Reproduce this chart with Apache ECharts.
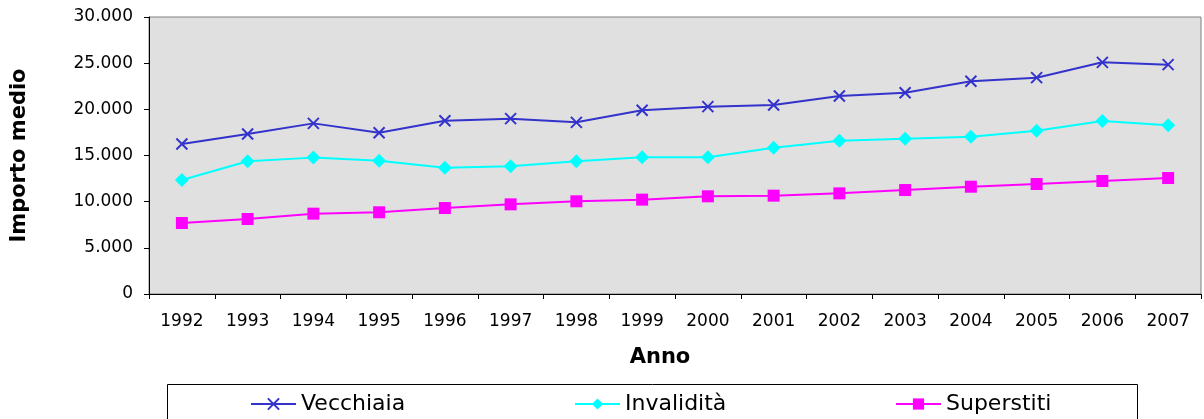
<!DOCTYPE html>
<html>
<head>
<meta charset="utf-8">
<script src="https://cdn.jsdelivr.net/npm/echarts@6/dist/echarts.min.js"></script>
<style>
html,body{margin:0;padding:0;background:#fff;}
#c{width:1204px;height:419px;}
</style>
</head>
<body>
<div id="c"></div>
<script>
const years = ['1992','1993','1994','1995','1996','1997','1998','1999','2000','2001','2002','2003','2004','2005','2006','2007'];
const vecchiaia = [16250, 17330, 18480, 17470, 18770, 18990, 18590, 19900, 20290, 20470, 21440, 21800, 23040, 23430, 25090, 24840];
const invalidita = [12350, 14370, 14770, 14440, 13680, 13830, 14370, 14800, 14800, 15850, 16610, 16820, 17040, 17690, 18740, 18270];
const superstiti = [7690, 8120, 8700, 8850, 9310, 9710, 10040, 10220, 10580, 10650, 10900, 11260, 11620, 11910, 12240, 12560];
const seriesNames = ['Vecchiaia', 'Invalidità', 'Superstiti'];
const yAxisTitle = 'Importo medio';
const xAxisTitle = 'Anno';

const FONT = 'DejaVu Sans';
const fmt = v => String(v).replace(/\B(?=(\d{3})+(?!\d))/g, '.');
const xPath = 'path://M0,0L10,10M10,0L0,10';

const chart = echarts.init(document.getElementById('c'), null, {renderer: 'canvas'});
const legendBase = {
  top: 393, itemWidth: 45, itemHeight: 14, itemGap: 0,
  textStyle: {fontFamily: FONT, fontSize: 22, color: '#000'},
  padding: 0
};
chart.setOption({
  backgroundColor: '#fff',
  animation: false,
  graphic: [{
    type: 'rect', left: 167, top: 384,
    shape: {width: 970, height: 45},
    style: {fill: '#fff', stroke: '#000', lineWidth: 1},
    z: 0
  }],
  legend: [
    Object.assign({}, legendBase, {left: 250, data: [seriesNames[0]]}),
    Object.assign({}, legendBase, {left: 574, data: [seriesNames[1]]}),
    Object.assign({}, legendBase, {left: 895, data: [seriesNames[2]]})
  ],
  grid: {
    left: 149, right: 3, top: 17, bottom: 125,
    show: true, backgroundColor: '#E0E0E0', borderColor: '#808080', borderWidth: 1
  },
  xAxis: {
    type: 'category', data: years, boundaryGap: true,
    name: xAxisTitle, nameLocation: 'middle', nameGap: 53,
    nameTextStyle: {fontFamily: FONT, fontSize: 21, fontWeight: 'bold', color: '#000', padding: [0, 30, 0, 0]},
    axisLine: {lineStyle: {color: '#000', width: 1}},
    axisTick: {show: true, alignWithLabel: false, length: 5, lineStyle: {color: '#000'}},
    axisLabel: {fontFamily: FONT, fontSize: 17, color: '#000', margin: 19, interval: 0},
    splitLine: {show: false}
  },
  yAxis: {
    type: 'value', min: 0, max: 30000, interval: 5000,
    name: yAxisTitle, nameLocation: 'middle', nameGap: 119, nameRotate: 90,
    nameTextStyle: {fontFamily: FONT, fontSize: 21, fontWeight: 'bold', color: '#000'},
    axisLine: {show: true, lineStyle: {color: '#000', width: 1}},
    axisTick: {show: true, length: 5, lineStyle: {color: '#000'}},
    axisLabel: {fontFamily: FONT, fontSize: 17, color: '#000', margin: 16, formatter: fmt},
    splitLine: {show: false}
  },
  series: [
    {
      name: seriesNames[0], type: 'line', data: vecchiaia,
      symbol: xPath, symbolSize: 11, showAllSymbol: true,
      lineStyle: {color: '#3333CC', width: 2},
      itemStyle: {color: '#3333CC', borderColor: '#3333CC', borderWidth: 2}
    },
    {
      name: seriesNames[1], type: 'line', data: invalidita,
      symbol: 'diamond', symbolSize: 14, showAllSymbol: true,
      lineStyle: {color: '#00FFFF', width: 2},
      itemStyle: {color: '#00FFFF', borderWidth: 0}
    },
    {
      name: seriesNames[2], type: 'line', data: superstiti,
      symbol: 'rect', symbolSize: 12, showAllSymbol: true,
      lineStyle: {color: '#FF00FF', width: 2},
      itemStyle: {color: '#FF00FF', borderWidth: 0}
    }
  ]
});
</script>
</body>
</html>
